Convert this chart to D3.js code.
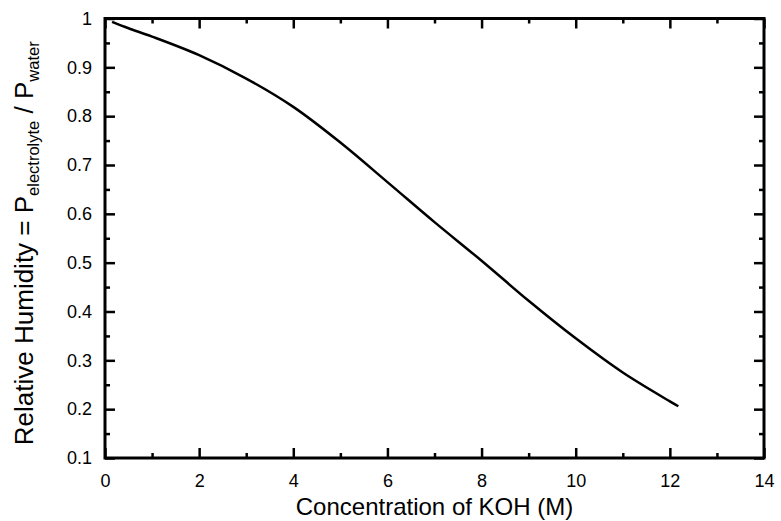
<!DOCTYPE html>
<html>
<head>
<meta charset="utf-8">
<script src="https://cdn.jsdelivr.net/npm/d3@7"></script>
<style>
  body { margin: 0; background: #fff; }
  text { font-family: "Liberation Sans", Arial, sans-serif; fill: #000; }
</style>
</head>
<body>
<div id="vis"></div>
<script>
var margin = { top: 18.5, right: 17, bottom: 63, left: 105 };

var width = 781 - margin.left - margin.right,
    height = 521 - margin.top - margin.bottom;

// KOH concentration (M) vs relative humidity
const conc = [0.15, 0.5, 1, 2, 3, 4, 5, 6, 7, 8, 9, 10, 11, 12, 12.18];
const humidity = [0.993, 0.980, 0.963, 0.925, 0.877, 0.819, 0.746, 0.665, 0.583, 0.504, 0.422, 0.345, 0.275, 0.216, 0.206];

const xTicks = [0, 2, 4, 6, 8, 10, 12, 14];
const xMinor = [1, 3, 5, 7, 9, 11, 13];
const yTicks = [0.1, 0.2, 0.3, 0.4, 0.5, 0.6, 0.7, 0.8, 0.9, 1];
const yMinor = [0.15, 0.25, 0.35, 0.45, 0.55, 0.65, 0.75, 0.85, 0.95];

var data = conc.map((c, i) => ({ x: c, y: humidity[i] }));

var svg = d3.select("#vis")
    .append("svg")
    .attr("width", width + margin.left + margin.right)
    .attr("height", height + margin.top + margin.bottom)
    .append("g")
    .attr("transform", "translate(" + margin.left + "," + margin.top + ")");

var x = d3.scaleLinear().domain([0, 14]).range([0, width]);
var y = d3.scaleLinear().domain([0.1, 1]).range([height, 0]);

//axes: ticks pointing inside, on all four sides
{
    var fmt = d => String(+d.toFixed(2));

    // tickSize is negative so ticks point into the plot
    function drawAxis(axisFn, scale, ticks, len, tx, ty, pad) {
        var ax = axisFn(scale).tickValues(ticks).tickSize(-len);
        if (pad != null) ax.tickPadding(pad).tickFormat(fmt);
        else ax.tickFormat("");
        var g = svg.append("g")
            .attr("transform", "translate(" + tx + "," + ty + ")")
            .call(ax);
        g.select(".domain").remove();
        g.selectAll(".tick line").attr("stroke", "#000").attr("stroke-width", 2.5);
        g.selectAll("text").style("font-size", "18px").attr("fill", "#000");
        return g;
    }

    drawAxis(d3.axisBottom, x, xTicks, 10, 0, height, 16);
    drawAxis(d3.axisBottom, x, xMinor, 5, 0, height);
    drawAxis(d3.axisTop, x, xTicks, 10, 0, 0);
    drawAxis(d3.axisTop, x, xMinor, 5, 0, 0);
    drawAxis(d3.axisLeft, y, yTicks, 10, 0, 0, 13);
    drawAxis(d3.axisLeft, y, yMinor, 5, 0, 0);
    drawAxis(d3.axisRight, y, yTicks, 10, width, 0);
    drawAxis(d3.axisRight, y, yMinor, 5, width, 0);

    svg.append("rect")
        .attr("width", width)
        .attr("height", height)
        .attr("fill", "none")
        .attr("stroke", "#000")
        .attr("stroke-width", 3);
}

var line = d3.line()
    .x(d => x(d.x))
    .y(d => y(d.y))
    .curve(d3.curveCatmullRom);

svg.append("path")
    .datum(data)
    .attr("fill", "none")
    .attr("stroke", "#000")
    .attr("stroke-width", 2.5)
    .attr("d", line);

svg.append("text")
    .attr("x", width / 2)
    .attr("y", height + 57)
    .attr("text-anchor", "middle")
    .style("font-size", "24px")
    .text("Concentration of KOH (M)");

var ylab = svg.append("text")
    .attr("transform", "translate(" + (-72) + "," + (height / 2 + 5) + ") rotate(-90)")
    .attr("text-anchor", "middle")
    .style("font-size", "26px");
ylab.append("tspan").text("Relative Humidity = P");
ylab.append("tspan").attr("dy", 6).style("font-size", "16.5px").text("electrolyte");
ylab.append("tspan").attr("dy", -6).text(" / P");
ylab.append("tspan").attr("dy", 6).style("font-size", "16.5px").text("water");
</script>
</body>
</html>
